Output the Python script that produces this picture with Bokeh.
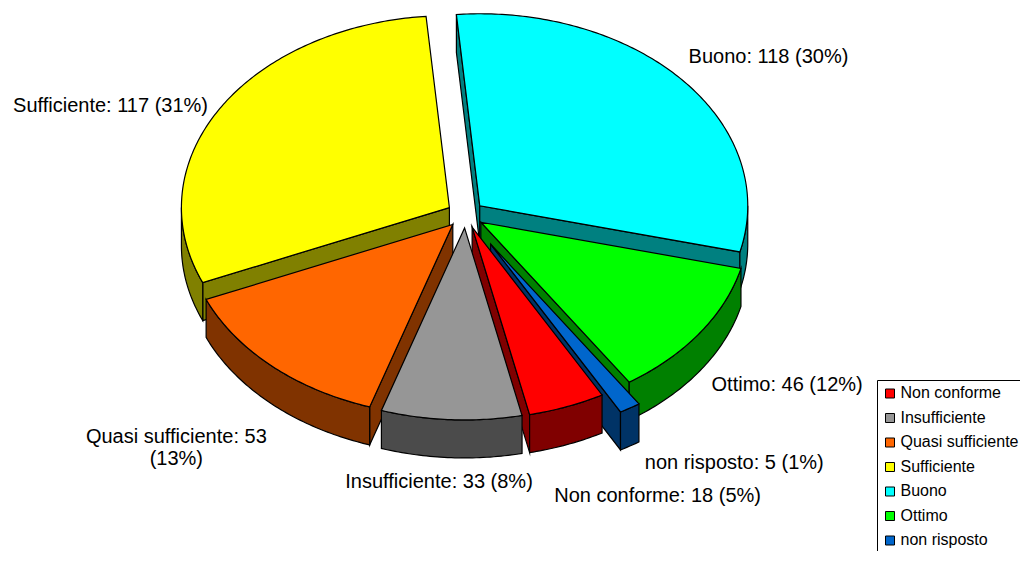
import math
import numpy as np
from bokeh.plotting import figure
from bokeh.models import Range1d, ColumnDataSource
from bokeh.embed import file_html
from bokeh.resources import INLINE
from bokeh.core.properties import value

# ---------------- data ----------------
categories = ["Non conforme", "Insufficiente", "Quasi sufficiente", "Sufficiente",
              "Buono", "Ottimo", "non risposto"]
counts = [18, 33, 53, 117, 118, 46, 5]
percent_labels = [5, 8, 13, 31, 30, 12, 1]

# ---------------- style / layout ----------------
top_colors = ["#FF0000", "#969696", "#FF6600", "#FFFF00", "#00FFFF", "#00FF00", "#0066CC"]
side_colors = ["#800000", "#4B4B4B", "#803300", "#808000", "#008080", "#008000", "#003366"]

CX, CY = 465.0, 214.0      # pie centre (page pixels)
RX, RY = 268.0, 192.0      # ellipse radii
DEPTH = 38.0               # thickness of the 3D pie
FIRST_ANGLE = 151.0        # degrees clockwise from 12 o'clock
EXPLODE = [0.07, 0.07, 0.07, 0.07, 0.07, 0.07, 0.18]
LABEL_RADIUS = [1.630, 1.399, 1.627, 1.441, 1.398, 1.492, 1.636]
LABEL_NUDGE = [-5.4, 1.2, -1.0, -7.8, 4.5, 1.3, -6.5]
LABEL_WRAP = [False, False, True, False, False, False, False]
TEXT_DY = -1.0
FONT = "Liberation Sans"

W, H = 1020, 551
p = figure(width=W, height=H, x_range=Range1d(0, W), y_range=Range1d(H, 0),
           output_backend="svg", toolbar_location=None, min_border=0,
           x_axis_type=None, y_axis_type=None)
p.grid.visible = False
p.outline_line_color = None
p.background_fill_color = "white"
p.border_fill_color = "white"

total = float(sum(counts))
spans = [c / total * 360.0 for c in counts]
starts = [FIRST_ANGLE + sum(spans[:i]) for i in range(len(spans))]
ends = [s + sp for s, sp in zip(starts, spans)]
mids = [(s + e) / 2 for s, e in zip(starts, ends)]


def arc_pts(a, b, ox, oy, dz=0.0):
    n = max(2, int(abs(b - a) / 0.75) + 1)
    th = np.radians(np.linspace(a, b, n))
    return list(ox + RX * np.sin(th)), list(oy - RY * np.cos(th) + dz)


def rim(theta, ox, oy, dz=0.0):
    t = math.radians(theta)
    return ox + RX * math.sin(t), oy - RY * math.cos(t) + dz


side_xs, side_ys, side_cols = [], [], []
top_xs, top_ys, top_cols = [], [], []

order = sorted(range(len(counts)), key=lambda i: -math.cos(math.radians(mids[i])))

centres = []
for i in range(len(counts)):
    m = math.radians(mids[i])
    ox = CX + EXPLODE[i] * RX * math.sin(m)
    oy = CY - EXPLODE[i] * RY * math.cos(m)
    centres.append((ox, oy))

for i in order:
    a, b = starts[i], ends[i]
    ox, oy = centres[i]
    # start cut face
    if math.sin(math.radians(a)) < -1e-9:
        px, py = rim(a, ox, oy)
        side_xs.append([ox, px, px, ox])
        side_ys.append([oy, py, py + DEPTH, oy + DEPTH])
        side_cols.append(side_colors[i])
    # end cut face
    if math.sin(math.radians(b)) > 1e-9:
        px, py = rim(b, ox, oy)
        side_xs.append([ox, px, px, ox])
        side_ys.append([oy, py, py + DEPTH, oy + DEPTH])
        side_cols.append(side_colors[i])
    # outer wall (front half only)
    for k in (0, 360):
        lo, hi = max(a, 90 + k), min(b, 270 + k)
        if hi > lo:
            tx, ty = arc_pts(lo, hi, ox, oy)
            bx, by = arc_pts(hi, lo, ox, oy, DEPTH)
            side_xs.append(tx + bx)
            side_ys.append(ty + by)
            side_cols.append(side_colors[i])

for i in range(len(counts)):
    ox, oy = centres[i]
    tx, ty = arc_pts(starts[i], ends[i], ox, oy)
    top_xs.append([ox] + tx)
    top_ys.append([oy] + ty)
    top_cols.append(top_colors[i])

src = ColumnDataSource(dict(xs=side_xs + top_xs, ys=side_ys + top_ys, c=side_cols + top_cols))
p.patches("xs", "ys", source=src, fill_color="c", line_color="black", line_width=1.2,
          line_join="miter")

# ---------------- data labels ----------------
lx, ly, lt = [], [], []
LINE_H = 22.0
for i, cat in enumerate(categories):
    ang = math.radians(mids[i] + LABEL_NUDGE[i])
    xc = CX + LABEL_RADIUS[i] * RX * math.sin(ang)
    yc = CY - LABEL_RADIUS[i] * RY * math.cos(ang)
    if LABEL_WRAP[i]:
        lines = [f"{cat}: {counts[i]}", f"({percent_labels[i]}%)"]
    else:
        lines = [f"{cat}: {counts[i]} ({percent_labels[i]}%)"]
    n = len(lines)
    for j, line in enumerate(lines):
        lx.append(xc)
        ly.append(yc + TEXT_DY + (j - (n - 1) / 2) * LINE_H)
        lt.append(line)

p.text(x=lx, y=ly, text=lt, text_font=value(FONT), text_font_size="20px",
       text_align="center", text_baseline="alphabetic", text_color="black")

# ---------------- legend ----------------
LEG_LEFT, LEG_TOP = 877.0, 380.0
ROW0, ROW_STEP = 393.0, 24.5
p.quad(left=[LEG_LEFT], right=[LEG_LEFT + 200], top=[LEG_TOP], bottom=[LEG_TOP + 300],
       fill_color="white", line_color="black", line_width=1)
rows = [ROW0 + ROW_STEP * i for i in range(len(categories))]
p.rect(x=[LEG_LEFT + 12.5] * len(rows), y=rows, width=9, height=9,
       fill_color=top_colors, line_color="black", line_width=1)
p.text(x=[LEG_LEFT + 23] * len(rows), y=[r - 1.0 for r in rows], text=categories,
       text_font=value(FONT), text_font_size="16px", text_align="left",
       text_baseline="alphabetic", text_color="black")

open("out.html", "w").write(file_html(p, INLINE))
